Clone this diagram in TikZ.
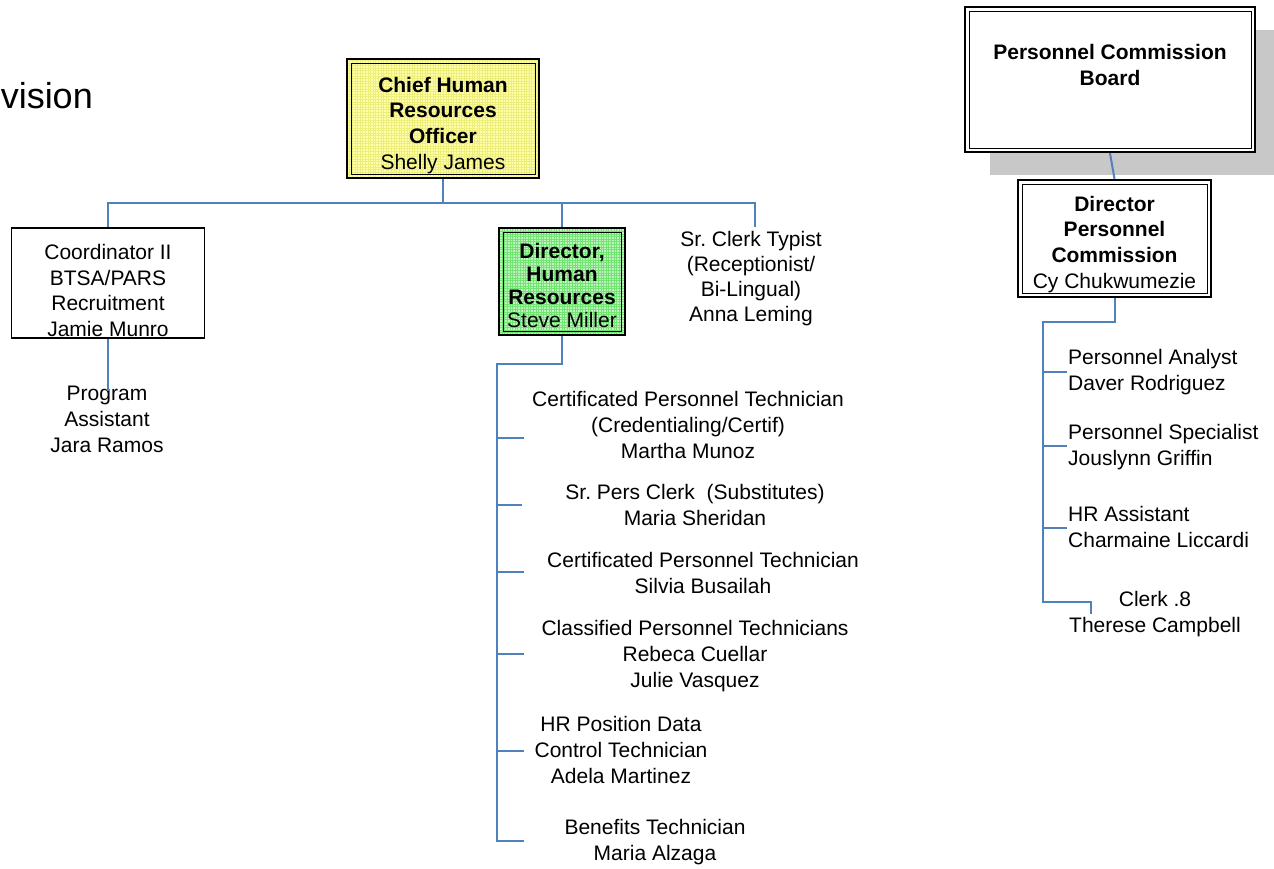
\documentclass[tikz,border=0pt]{standalone}
\usepackage{fontspec}
\setmainfont{Liberation Sans}
\frenchspacing
\definecolor{connblue}{RGB}{79,129,189}
\definecolor{hryellow}{RGB}{255,255,172}
\definecolor{hryellowgrid}{RGB}{238,238,125}
\definecolor{hrgreen}{RGB}{190,247,190}
\definecolor{hrgreengrid}{RGB}{115,228,115}
\definecolor{shadowgray}{RGB}{200,200,200}
\newcommand\toppad[1]{\rule{0pt}{#1}}
\begin{document}
\begin{tikzpicture}[x=1pt,y=-1pt,
  conn/.style={draw=connblue, line width=2pt},
  txt/.style={font=\fontsize{21}{25.7}\selectfont, align=center, inner sep=0pt, anchor=base},
  ltxt/.style={txt, align=left, anchor=base west},
  sbox/.style={draw, line width=1.6pt, fill=white, inner sep=0pt,
    font=\fontsize{21}{25.7}\selectfont, align=center},
  dbox/.style={sbox, line width=2.2pt,
    path picture={\draw[line width=0.9pt]
      ([shift={(4pt,4pt)}]path picture bounding box.south west) rectangle
      ([shift={(-4pt,-4pt)}]path picture bounding box.north east);}},
  gbox/.style 2 args={sbox, line width=2.2pt, fill=#1,
    path picture={
      \draw[#2, line width=0.35pt, step=2.6pt]
        (path picture bounding box.south west) grid (path picture bounding box.north east);
      \draw[black, line width=0.9pt]
      ([shift={(4pt,4pt)}]path picture bounding box.south west) rectangle
      ([shift={(-4pt,-4pt)}]path picture bounding box.north east);}}
]
\useasboundingbox (0,0) rectangle (1274,868);

% title fragment
\node[inner sep=0pt, anchor=base east, font=\fontsize{36}{40}\selectfont] (title) at (93,108) {vision};

% top box
\node[gbox={hryellow}{hryellowgrid}, minimum width=192pt, minimum height=119pt] (chief) at (443,118.5)
  {\toppad{29pt}\textbf{Chief Human}\\\textbf{Resources}\\\textbf{Officer}\\Shelly James};

% level 2
\node[sbox, minimum width=193pt, minimum height=110pt] (coord) at (108,283)
  {\toppad{30pt}Coordinator II\\BTSA/PARS\\Recruitment\\Jamie Munro};
\node[gbox={hrgreen}{hrgreengrid}, minimum width=126pt, minimum height=107pt,
  font=\fontsize{21}{23}\selectfont] (dirhr) at (562,281.5)
  {\toppad{23pt}\textbf{Director,}\\\textbf{Human}\\\textbf{Resources}\\Steve Miller};
\node[txt, font=\fontsize{21}{25}\selectfont] (srclk) at (751,321) {Sr. Clerk Typist\\(Receptionist/\\Bi-Lingual)\\Anna Leming};
\coordinate (srtop) at (755,227);

\node[txt] (prog) at (107,452) {Program\\Assistant\\Jara Ramos};
\coordinate (progtop) at (108,391);

% HR staff
\node[txt] (m1) at (688,458) {Certificated Personnel Technician\\(Credentialing/Certif)\\Martha Munoz};
\node[txt] (m2) at (695,525) {Sr. Pers Clerk\ \ (Substitutes)\\Maria Sheridan};
\node[txt] (m3) at (703,593) {Certificated Personnel Technician\\Silvia Busailah};
\node[txt] (m4) at (695,687) {Classified Personnel Technicians\\Rebeca Cuellar\\Julie Vasquez};
\node[txt] (m5) at (621,783) {HR Position Data\\Control Technician\\Adela Martinez};
\node[txt] (m6) at (655,860) {Benefits Technician\\Maria Alzaga};

% Personnel commission
\fill[shadowgray] (990,30) rectangle (1274,175);
\node[dbox, minimum width=290pt, minimum height=145pt] (board) at (1110,79.5) {};
\node[txt, font=\fontsize{21}{25.7}\selectfont\bfseries] (boardtxt) at (1110,85) {Personnel Commission\\Board};
\node[dbox, minimum width=193pt, minimum height=117pt] (dirpc) at (1114.5,238.5)
  {\toppad{27pt}\textbf{Director}\\\textbf{Personnel}\\\textbf{Commission}\\Cy Chukwumezie};

\node[ltxt] (p1) at (1068,390) {Personnel Analyst\\Daver Rodriguez};
\node[ltxt] (p2) at (1068,465) {Personnel Specialist\\Jouslynn Griffin};
\node[ltxt] (p3) at (1068,547) {HR Assistant\\Charmaine Liccardi};
\node[txt] (p4) at (1155,632) {Clerk .8\\Therese Campbell};

% connectors top
\coordinate (bus) at (443,203);
\draw[conn] (chief.south) -- (bus);
\draw[conn] (coord.north) -- (coord.north |- bus) -- (srtop |- bus) -- (srtop);
\draw[conn] (dirhr.north) -- (dirhr.north |- bus);
\draw[conn] (coord.south) -- (progtop);

% HR branch
\coordinate (hrspine) at (497,364);
\coordinate (t1) at (524,438);
\coordinate (t2) at (522,505);
\coordinate (t3) at (524,572);
\coordinate (t4) at (524,654);
\coordinate (t5) at (524,751);
\coordinate (t6) at (524,841);
\draw[conn] (dirhr.south) |- (hrspine) -- (hrspine |- t6) -- (t6);
\foreach \t in {t1,t2,t3,t4,t5} \draw[conn] (hrspine |- \t) -- (\t);

% PC branch
\draw[conn] (board.south) -- (dirpc.north);
\coordinate (pcspine) at (1043,322);
\coordinate (q1) at (1067,372);
\coordinate (q2) at (1067,446);
\coordinate (q3) at (1067,528);
\coordinate (q4c) at (1091,602);
\coordinate (q4) at (1091,614);
\draw[conn] (dirpc.south) |- (pcspine) |- (q4c) -- (q4);
\foreach \q in {q1,q2,q3} \draw[conn] (pcspine |- \q) -- (\q);
\end{tikzpicture}
\end{document}
